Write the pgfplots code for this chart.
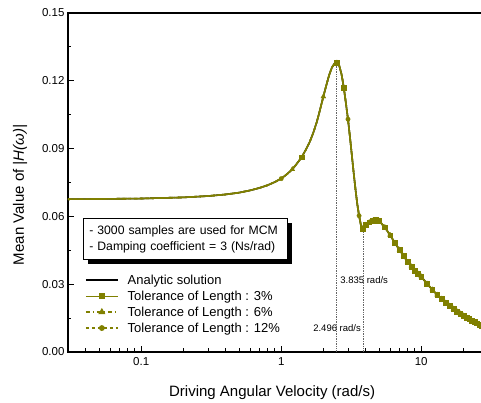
\documentclass[border=0pt]{standalone}
\usepackage{fontspec}
\setmainfont{Liberation Sans}
\usepackage{pgfplots}
\usepackage{pgfplotstable}
\pgfplotsset{compat=1.18}
\usetikzlibrary{shadows}
\definecolor{olivec}{RGB}{128,128,0}

\pgfplotstableread{
x y
0.03 0.0676
0.05 0.0677
0.1 0.0679
0.2 0.0684
0.3 0.0690
0.4 0.0697
0.5 0.0705
0.6 0.0715
0.7 0.0726
0.8 0.0738
0.9 0.0752
1.0 0.0767
1.1 0.0787
1.2 0.0808
1.3 0.0835
1.4 0.0862
1.5 0.0895
1.6 0.0930
1.7 0.0972
1.8 0.1020
1.9 0.1075
2.0 0.1130
2.1 0.1180
2.2 0.1225
2.3 0.1258
2.4 0.1276
2.5 0.1280
2.6 0.1266
2.7 0.1228
2.8 0.1170
2.9 0.1100
3.0 0.1030
3.1 0.0950
3.2 0.0868
3.3 0.0788
3.4 0.0715
3.5 0.0652
3.6 0.0603
3.7 0.0565
3.835 0.0545
4.0 0.0562
4.25 0.0574
4.5 0.0580
4.75 0.0584
5.0 0.0580
5.5 0.0552
6.0 0.0517
6.5 0.0482
7.0 0.0452
7.5 0.0425
8.0 0.0398
8.5 0.0378
9.0 0.0360
9.5 0.0346
10 0.0334
11 0.0302
12 0.0276
13 0.0253
14 0.0235
15 0.0218
16 0.0204
17 0.0191
18 0.0180
19 0.0170
20 0.0161
21 0.0153
22 0.0146
23 0.0139
24 0.0133
25 0.0127
26 0.0122
27 0.0118
28 0.0114
29 0.0110
30 0.0106
}\curve

\pgfplotstableread{
x y
3.835 0.0545
4.0 0.0562
4.25 0.0574
4.5 0.0580
4.75 0.0584
5.0 0.0580
5.5 0.0552
6.0 0.0517
6.5 0.0482
7.0 0.0452
7.5 0.0425
8.0 0.0398
8.5 0.0378
9.0 0.0360
9.5 0.0346
10 0.0334
11 0.0302
12 0.0276
13 0.0253
14 0.0235
15 0.0218
16 0.0204
17 0.0191
18 0.0180
19 0.0170
20 0.0161
21 0.0153
22 0.0146
23 0.0139
24 0.0133
25 0.0127
26 0.0122
27 0.0118
28 0.0114
29 0.0110
30 0.0106
}\rightmarks

\pgfplotstableread{
x y
1.4 0.0862
2.5 0.1280
2.8 0.1170
}\sqmarks

\pgfplotstableread{
x y
1.2 0.0808
2.0 0.1130
2.5 0.1280
}\trimarks

\pgfplotstableread{
x y
1.0 0.0767
3.0 0.1030
3.6 0.0603
}\circmarks

\begin{document}
\begin{tikzpicture}
\begin{axis}[
  scale only axis, width=420pt, height=339pt,
  xmode=log, xmin=0.03, xmax=30, ymin=0, ymax=0.15,
  xtick={0.1,1,10}, xticklabels={0.1,1,10},
  minor xtick={0.04,0.05,0.06,0.07,0.08,0.09,0.2,0.3,0.4,0.5,0.6,0.7,0.8,0.9,2,3,4,5,6,7,8,9,20},
  ytick={0,0.03,0.06,0.09,0.12,0.15},
  minor ytick={0.015,0.045,0.075,0.105,0.135},
  /pgf/number format/assume math mode=true,
  yticklabel style={/pgf/number format/.cd,fixed,fixed zerofill,precision=2},
  xticklabel style={yshift=-2pt},
  scaled y ticks=false,
  tick align=inside, xtick pos=left, ytick pos=left,
  major tick length=6pt, minor tick length=3.5pt,
  tick style={black, line width=0.8pt},
  axis line style={line width=1.3pt},
  ticklabel style={font=\fontsize{11.5}{13}\selectfont},
  xlabel={Driving Angular Velocity (rad/s)},
  ylabel={Mean Value of \textit{|H(ω)|}},
  label style={font=\fontsize{15}{17}\selectfont},
  xlabel style={at={(rel axis cs:0.486,-0.121)}, anchor=center},
  ylabel style={at={(rel axis cs:-0.114,0.463)}, anchor=center},
  legend style={at={(rel axis cs:0.033,0.240)}, anchor=north west, draw=none, fill=none,
    font=\fontsize{13}{15}\selectfont, row sep=1pt,
    /tikz/every odd column/.append style={column sep=7pt}},
  legend cell align=left,
  legend image code/.code={\draw[mark repeat=2,mark phase=2,#1] plot coordinates {(0pt,0pt) (16pt,0pt) (32pt,0pt)};},
]
\addplot[gray!80!black, densely dotted, line width=0.7pt, forget plot] coordinates {(2.496,0) (2.496,0.128)};
\addplot[gray!80!black, densely dotted, line width=0.7pt, forget plot] coordinates {(3.835,0) (3.835,0.0545)};

\addplot[black, line width=1.6pt] table {\curve};
\addlegendentry{Analytic solution}

\addplot[olivec, line width=1.6pt, dashed, forget plot] table {\curve};
\addplot[olivec, line width=1.6pt, dash pattern=on 4pt off 3pt on 1pt off 3pt, forget plot] table {\curve};
\addplot[olivec, line width=1.6pt, forget plot] table {\curve};

\addplot[olivec, only marks, mark=*, mark size=2.2pt, forget plot] table {\circmarks};
\addplot[olivec, only marks, mark=*, mark size=2.2pt, forget plot] table {\rightmarks};
\addplot[olivec, only marks, mark=triangle*, mark size=2.8pt, forget plot] table {\trimarks};
\addplot[olivec, only marks, mark=triangle*, mark size=2.8pt, forget plot] table {\rightmarks};
\addplot[olivec, only marks, mark=square*, mark size=2.4pt, forget plot] table {\sqmarks};
\addplot[olivec, only marks, mark=square*, mark size=2.4pt, forget plot] table {\rightmarks};

\addlegendimage{olivec, line width=1.4pt, mark=square*, mark size=2.4pt}
\addlegendentry{Tolerance of Length : 3\%}
\addlegendimage{olivec, line width=1.4pt, dash pattern=on 4pt off 3pt on 1pt off 3pt, mark=triangle*, mark size=2.8pt, mark options={solid}}
\addlegendentry{Tolerance of Length : 6\%}
\addlegendimage{olivec, line width=1.4pt, dashed, mark=*, mark size=2.2pt, mark options={solid}}
\addlegendentry{Tolerance of Length : 12\%}

\node[draw=black, fill=white, line width=0.6pt,
  drop shadow={shadow xshift=4.5pt, shadow yshift=-4.5pt, fill=black, opacity=1},
  anchor=north west, text width=192pt, inner xsep=6pt, inner ysep=7pt, align=left,
  font=\fontsize{12.2}{16}\selectfont] at (rel axis cs:0.0357,0.395)
  {- 3000 samples are used for MCM\\- Damping coefficient = 3 (Ns/rad)};

\node[anchor=west, inner sep=0pt, font=\fontsize{9.5}{11}\selectfont] at (axis cs:2.64,0.0319) {3.835 rad/s};
\node[anchor=west, inner sep=0pt, font=\fontsize{9.5}{11}\selectfont] at (axis cs:1.69,0.0106) {2.496 rad/s};
\end{axis}
\pgfresetboundingbox
\path ([shift={(-68pt,-51pt)}]current axis.south west) rectangle ([shift={(-7pt,13pt)}]current axis.north east);
\end{tikzpicture}
\end{document}
